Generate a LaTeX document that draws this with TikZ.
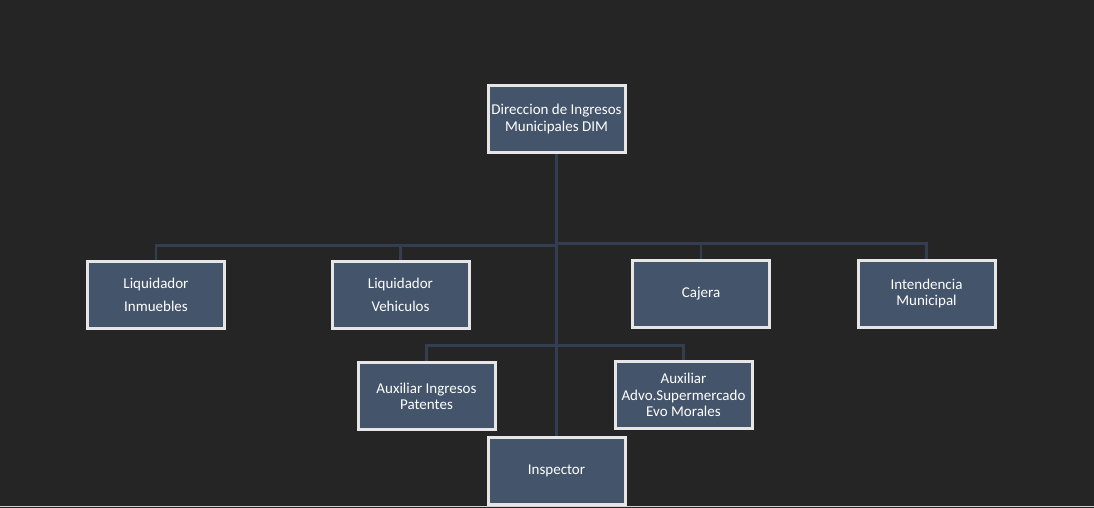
\documentclass[tikz,border=0pt]{standalone}
\usepackage{fontspec}
\setmainfont{Carlito}
\definecolor{bg}{HTML}{252525}
\definecolor{boxfill}{HTML}{44546A}
\definecolor{boxline}{HTML}{E6E6E6}
\definecolor{conn}{HTML}{333F50}
\pgfdeclarelayer{bgfill}
\pgfdeclarelayer{connlayer}
\pgfsetlayers{bgfill,connlayer,main}
\begin{document}
\begin{tikzpicture}[x=1pt,y=-1pt,
  orgbox/.style={draw=boxline, line width=3pt, fill=boxfill, minimum width=137pt, minimum height=67pt,
    inner sep=0pt, text=white, align=center, font=\fontsize{15pt}{16.3pt}\selectfont},
  wide/.style={font=\fontsize{15pt}{23pt}\selectfont},
  link/.style={draw=conn, line width=2.6pt}]
\useasboundingbox (0,0) rectangle (1094,508);
\begin{pgfonlayer}{bgfill}
\fill[bg] (-5,-5) rectangle (1099,513);
\draw[boxline!80!gray, line width=1.2pt] (-5,506.8) -- (1099,506.8);
\end{pgfonlayer}
% nodes
\node[orgbox] (dim) at (556.5,119) {Direccion de Ingresos\\Municipales DIM};
\node[orgbox,wide] (inm) at (156,294.5) {Liquidador\\Inmuebles};
\node[orgbox,wide] (veh) at (400.5,294.5) {Liquidador\\Vehiculos};
\node[orgbox] (caj) at (701,293.5) {Cajera};
\node[orgbox] (int) at (926.5,293.5) {Intendencia\\Municipal};
\node[orgbox] (pat) at (426.5,396) {Auxiliar Ingresos\\Patentes};
\node[orgbox] (adv) at (683.5,395) {Auxiliar\\Advo.Supermercado\\Evo Morales};
\node[orgbox] (ins) at (556.5,471) {Inspector};
% connector coordinates
\coordinate (hl) at (556.5,245.5);
\coordinate (hr) at (556.5,243.5);
\coordinate (h2) at (556.5,345.5);
\begin{pgfonlayer}{connlayer}
\draw[link] (dim.south) -- (ins.north);
\draw[link] (hl) -| (inm.north);
\draw[link] (hl) -| (veh.north);
\draw[link] (hr) -| (caj.north);
\draw[link] (hr) -| (int.north);
\draw[link] (h2) -| (pat.north);
\draw[link] (h2) -| (adv.north);
\end{pgfonlayer}
\end{tikzpicture}
\end{document}
